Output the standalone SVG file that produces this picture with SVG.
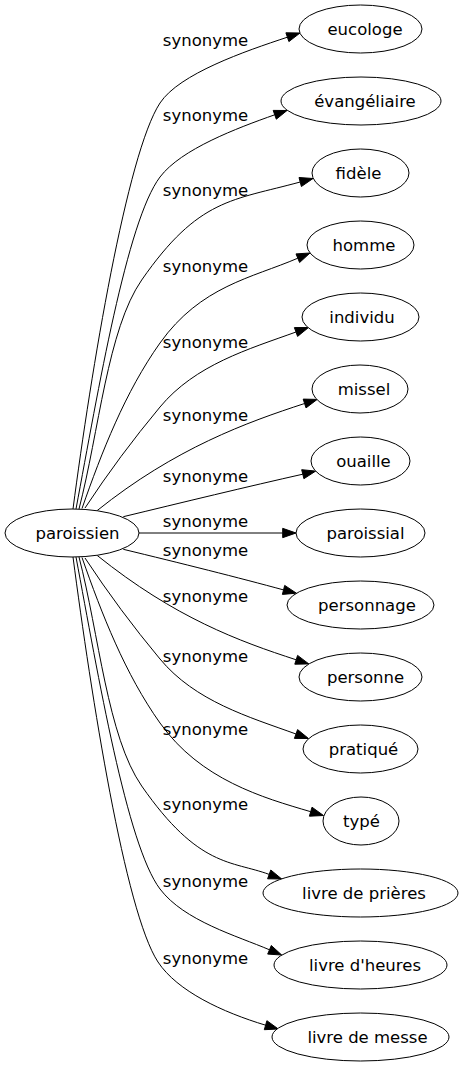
<svg xmlns="http://www.w3.org/2000/svg" width="463" height="1067" viewBox="0 0 463 1067">
<style>
.n ellipse{fill:#fff;stroke:#000;stroke-width:1}
text{font-family:"DejaVu Sans",sans-serif;font-size:16.5px;fill:#000;text-anchor:middle}
.e path{fill:none;stroke:#000;stroke-width:1}
.e polygon{fill:#000;stroke:#000;stroke-width:1}
</style>
<rect width="463" height="1067" fill="#fff"/>
<g id="edges" class="e">
<path d="M73,509 C91.2,370.3 127,153.1 160,103 C179.3,73.8 244.7,51.3 287.4,37.2"/>
<polygon points="288.9,41.6 300,33 285.9,32.8"/>
<path d="M76,509 C98.1,391 126.8,220.9 160,177 C181.1,149.1 237,128.1 274.7,114.8"/>
<polygon points="276.3,119.2 287,110.5 273.2,110.4"/>
<path d="M79,509 C99,431.6 107.5,329.2 141.7,280 C198.7,198 232.6,200.5 300.2,182"/>
<polygon points="301.4,186.5 313,178.5 299,177.5"/>
<path d="M82,508.5 C101.8,451.9 125.2,391.9 160,343 C200.6,286 251.9,277.9 297.8,258.2"/>
<polygon points="299.6,262.5 310,253 296,253.9"/>
<path d="M85,508 C108.1,472.9 133.1,439.3 160,407 C195.2,364.6 249,349 296,332"/>
<polygon points="297.6,336.4 308.5,327.5 294.4,327.6"/>
<path d="M97,510.7 C175,448.1 247.5,422.1 304.6,403.5"/>
<polygon points="306,407.9 317.2,399.4 303.2,399.1"/>
<path d="M123.3,516.7 C180,503 250,486 302.8,474.2"/>
<polygon points="303.9,478.7 315.7,471.1 301.7,469.7"/>
<path d="M139,533 L282.7,533"/>
<polygon points="282.7,537.67 296,533 282.7,528.33"/>
<path d="M123.3,549.3 C180,563 240,578 283.5,589.9"/>
<polygon points="282.4,594.4 296.4,593.2 284.7,585.4"/>
<path d="M97,555.3 C175,617.9 239.1,641.2 296.2,659.8"/>
<polygon points="294.8,664.2 308.8,663.9 297.6,655.4"/>
<path d="M85,558 C108.1,593.1 133.1,626.7 160,659 C195.2,701.4 249,717 296,734"/>
<polygon points="294.4,738.4 308.5,738.5 297.6,729.6"/>
<path d="M82,557.5 C101.8,614.1 125.2,674.1 160,723 C200.6,780 262.8,797.6 310.7,811.7"/>
<polygon points="309.4,816.2 323.5,815.5 312,807.2"/>
<path d="M79,557 C99,634.4 107.5,736.8 141.7,786 C198.7,868 231.6,860.6 269.2,874.4"/>
<polygon points="267.6,878.8 281.7,879 270.8,870"/>
<path d="M76,557 C98.1,675 126.8,845.1 160,889 C184.1,920.9 237.3,936 269.5,949.8"/>
<polygon points="267.7,954.1 281.7,955 271.3,945.5"/>
<path d="M73,557 C91.2,695.7 125,911.9 158,962 C177.3,991.2 222.5,1012.2 265.6,1025.2"/>
<polygon points="264.3,1029.7 278.3,1029 266.9,1020.7"/>
<text x="205.5" y="46">synonyme</text>
<text x="205.5" y="121">synonyme</text>
<text x="205.5" y="196">synonyme</text>
<text x="205.5" y="272">synonyme</text>
<text x="205.5" y="348">synonyme</text>
<text x="205.5" y="421">synonyme</text>
<text x="205.5" y="482">synonyme</text>
<text x="205.5" y="527">synonyme</text>
<text x="205.5" y="556">synonyme</text>
<text x="205.5" y="602">synonyme</text>
<text x="205.5" y="662">synonyme</text>
<text x="205.5" y="735">synonyme</text>
<text x="205.5" y="810">synonyme</text>
<text x="205.5" y="887">synonyme</text>
<text x="205.5" y="964">synonyme</text>
</g>
<g id="paroissien" class="n"><ellipse cx="72" cy="533" rx="67" ry="24"/><text x="77.5" y="539">paroissien</text></g>
<g id="eucologe" class="n"><ellipse cx="360.5" cy="29" rx="61.5" ry="24"/><text x="365" y="35">eucologe</text></g>
<g id="evangeliaire" class="n"><ellipse cx="361" cy="101" rx="80" ry="24"/><text x="365" y="107">évangéliaire</text></g>
<g id="fidele" class="n"><ellipse cx="360.5" cy="173" rx="48.5" ry="24"/><text x="358.5" y="179">fidèle</text></g>
<g id="homme" class="n"><ellipse cx="360.5" cy="245" rx="53.5" ry="24"/><text x="364" y="251">homme</text></g>
<g id="individu" class="n"><ellipse cx="360.5" cy="317" rx="58.5" ry="24"/><text x="362" y="323">individu</text></g>
<g id="missel" class="n"><ellipse cx="360" cy="389" rx="48" ry="24"/><text x="364" y="395">missel</text></g>
<g id="ouaille" class="n"><ellipse cx="360.5" cy="461" rx="49.5" ry="24"/><text x="363.5" y="467">ouaille</text></g>
<g id="paroissial" class="n"><ellipse cx="360.5" cy="533" rx="64.5" ry="24"/><text x="365.5" y="539">paroissial</text></g>
<g id="personnage" class="n"><ellipse cx="360.5" cy="605" rx="73.5" ry="24"/><text x="367" y="611">personnage</text></g>
<g id="personne" class="n"><ellipse cx="360.5" cy="677" rx="61.5" ry="24"/><text x="365.5" y="683">personne</text></g>
<g id="pratique" class="n"><ellipse cx="360.5" cy="749" rx="57.5" ry="24"/><text x="363.5" y="755">pratiqué</text></g>
<g id="type" class="n"><ellipse cx="361" cy="821" rx="38" ry="24"/><text x="361.5" y="827">typé</text></g>
<g id="livre-de-prieres" class="n"><ellipse cx="360.5" cy="893" rx="97.5" ry="24"/><text x="364" y="899">livre de prières</text></g>
<g id="livre-d-heures" class="n"><ellipse cx="360.5" cy="965" rx="86.5" ry="24"/><text x="365" y="971">livre d'heures</text></g>
<g id="livre-de-messe" class="n"><ellipse cx="360.5" cy="1037" rx="88.5" ry="24"/><text x="367.5" y="1043">livre de messe</text></g>
</svg>
